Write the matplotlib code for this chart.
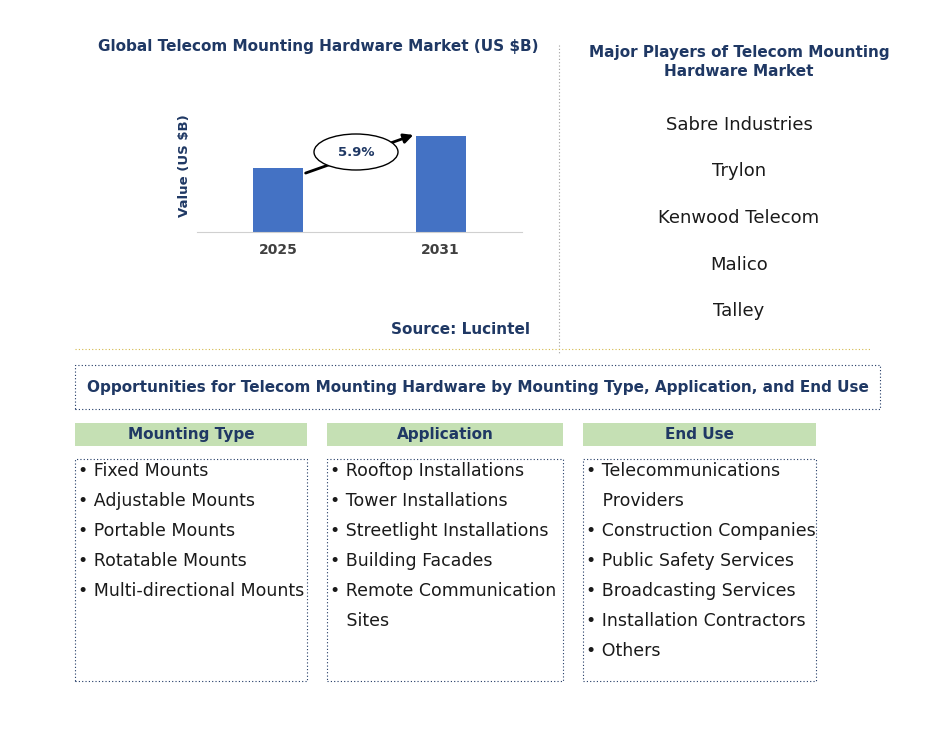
import matplotlib
matplotlib.use("Agg")
import matplotlib.pyplot as plt
from matplotlib.patches import Rectangle, Ellipse

years = ["2025", "2031"]
values = [2.0, 3.0]
cagr_label = "5.9%"
players = ["Sabre Industries", "Trylon", "Kenwood Telecom", "Malico", "Talley"]
mounting = ["• Fixed Mounts", "• Adjustable Mounts", "• Portable Mounts", "• Rotatable Mounts", "• Multi-directional Mounts"]
application = ["• Rooftop Installations", "• Tower Installations", "• Streetlight Installations", "• Building Facades", "• Remote Communication", "   Sites"]
end_use = ["• Telecommunications", "   Providers", "• Construction Companies", "• Public Safety Services", "• Broadcasting Services", "• Installation Contractors", "• Others"]

W, H = 945, 742
fig = plt.figure(figsize=(W/100, H/100), dpi=100)
navy = "#1f3864"
def fx(x): return x / W
def fy(y): return 1 - y / H

# Bar chart
ax = fig.add_axes([fx(197), fy(232), fx(522) - fx(197), fy(100) - fy(232)])
ax.bar([0, 1], values, width=0.31, color="#4472c4")
ax.set_xlim(-0.5, 1.5)
ax.set_ylim(0, 3.0 * 132 / 96)
ax.set_xticks([0, 1])
ax.set_xticklabels(years, fontsize=10, fontweight="bold", color="#404040")
ax.tick_params(length=0, pad=8)
ax.set_yticks([])
for s in ["top", "right", "left"]:
    ax.spines[s].set_visible(False)
ax.spines["bottom"].set_color("#d0d0d0")
ax.set_ylabel("Value (US $B)", fontsize=9.5, fontweight="bold", color=navy, labelpad=4)

fig.text(fx(318), fy(46), "Global Telecom Mounting Hardware Market (US $B)", ha="center", va="center",
         fontsize=11, fontweight="bold", color=navy)
fig.text(fx(530), fy(329), "Source: Lucintel", ha="right", va="center", fontsize=11, fontweight="bold", color=navy)

# arrow and ellipse
fig.add_artist(matplotlib.patches.FancyArrowPatch((fx(303), fy(174)), (fx(416), fy(134)),
               transform=fig.transFigure, arrowstyle="-|>", mutation_scale=14, lw=2, color="black"))
fig.add_artist(Ellipse((fx(356), fy(152)), fx(84), 36 / H, transform=fig.transFigure,
               facecolor="white", edgecolor="black", lw=1))
fig.text(fx(356), fy(152), cagr_label, ha="center", va="center", fontsize=9.5, fontweight="bold", color=navy)

# separators
fig.add_artist(plt.Line2D([fx(559), fx(559)], [fy(45), fy(355)], transform=fig.transFigure,
               color="#a0a0a0", lw=0.8, ls=(0, (1, 2))))
fig.add_artist(plt.Line2D([fx(75), fx(870)], [fy(349), fy(349)], transform=fig.transFigure,
               color="#d4b84a", lw=0.8, ls=(0, (1, 2))))

# players
fig.text(fx(739), fy(62), "Major Players of Telecom Mounting\nHardware Market", ha="center", va="center",
         fontsize=11, fontweight="bold", color=navy, linespacing=1.3)
for i, p in enumerate(players):
    fig.text(fx(739), fy(125 + i * 46.5), p, ha="center", va="center", fontsize=13, color="#1a1a1a")

def rect(x0, y0, x1, y1, **kw):
    fig.add_artist(Rectangle((fx(x0), fy(y1)), fx(x1) - fx(x0), fy(y0) - fy(y1), transform=fig.transFigure, **kw))

rect(75, 365, 880, 409, facecolor="none", edgecolor=navy, lw=0.8, ls=(0, (1, 2)))
fig.text(fx(478), fy(387), "Opportunities for Telecom Mounting Hardware by Mounting Type, Application, and End Use",
         ha="center", va="center", fontsize=11, fontweight="bold", color=navy)

cols = [(75, 307, "Mounting Type", mounting), (327, 563, "Application", application), (583, 816, "End Use", end_use)]
for x0, x1, title, items in cols:
    rect(x0, 423, x1, 446, facecolor="#c5e0b4", edgecolor="none")
    fig.text(fx((x0 + x1) / 2), fy(434.5), title, ha="center", va="center", fontsize=11, fontweight="bold", color=navy)
    rect(x0, 459, x1, 681, facecolor="none", edgecolor=navy, lw=0.8, ls=(0, (1, 2)))
    for i, t in enumerate(items):
        fig.text(fx(x0 + 3), fy(471 + i * 30), t, ha="left", va="center", fontsize=12.5, color="#1a1a1a")

fig.savefig("out.png", dpi=100)
